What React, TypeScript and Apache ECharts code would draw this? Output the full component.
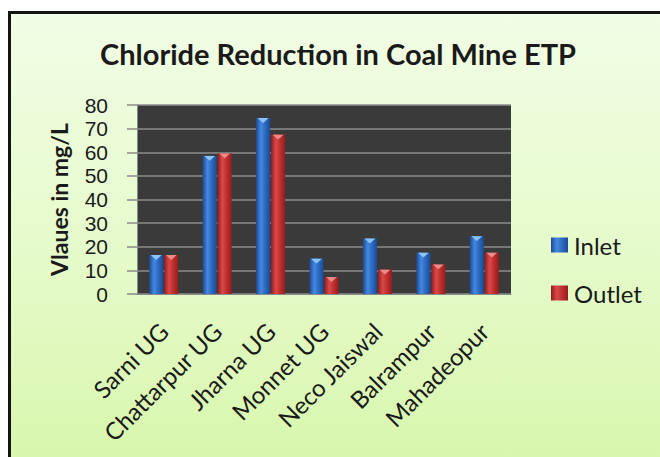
import React, { useEffect, useRef } from "react";
import * as echarts from "echarts";

const categories = [
  "Sarni UG",
  "Chattarpur UG",
  "Jharna UG",
  "Monnet UG",
  "Neco Jaiswal",
  "Balrampur",
  "Mahadeopur",
];
const inletValues = [16.5, 58.5, 74.5, 15, 23.5, 17.5, 24.5];
const outletValues = [16.5, 59.5, 67.5, 7.2, 10.3, 12.5, 17.5];
const seriesNames = ["Inlet", "Outlet"];
const titleText = "Chloride Reduction in Coal Mine ETP";
const yAxisName = "Vlaues in mg/L";

const FONT = "Lato, 'Open Sans', sans-serif";
const NUM_FONT = "'Liberation Sans', Arial, sans-serif";

function barGradient(edge: string, mid: string, light: string) {
  return new echarts.graphic.LinearGradient(0, 0, 1, 0, [
    { offset: 0, color: edge },
    { offset: 0.35, color: light },
    { offset: 0.6, color: mid },
    { offset: 1, color: edge },
  ]);
}

export default function App() {
  const ref = useRef<HTMLDivElement>(null);

  useEffect(() => {
    if (!ref.current) return;
    const chart = echarts.init(ref.current, null, { renderer: "svg" });
    const blue = barGradient("#1c4a93", "#2f6fc6", "#4589e0");
    const red = barGradient("#951c1c", "#c43232", "#d94a4a");
    const BW = 14;
    const OFF = 7.5;
    chart.setOption({
      animation: false,
      backgroundColor: "transparent",
      textStyle: { fontFamily: FONT },
      title: {
        text: titleText,
        left: 333,
        top: 34,
        textAlign: "center",
        textStyle: {
          fontFamily: FONT,
          fontSize: 29,
          fontWeight: "bold",
          color: "#1a1a1a",
        },
      },
      legend: {
        data: seriesNames,
        orient: "vertical",
        left: 551,
        top: 231,
        padding: 0,
        itemWidth: 17,
        itemHeight: 15,
        itemGap: 20,
        icon: "rect",
        textStyle: {
          fontFamily: FONT,
          fontSize: 24,
          color: "#1a1a1a",
          lineHeight: 28,
          padding: [0, 0, 0, 1],
        },
      },
      grid: {
        left: 137,
        top: 105,
        right: 149,
        bottom: 163,
        show: true,
        backgroundColor: "#3a3a3a",
        borderWidth: 0,
        containLabel: false,
      },
      xAxis: {
        type: "category",
        data: categories,
        axisLine: { show: true, lineStyle: { color: "#8a8a8a", width: 1 } },
        axisTick: { show: false },
        axisLabel: {
          interval: 0,
          rotate: 45,
          margin: 33,
          fontFamily: FONT,
          fontSize: 24,
          lineHeight: 24,
          color: "#1a1a1a",
        },
      },
      yAxis: {
        type: "value",
        min: 0,
        max: 80,
        interval: 10,
        name: yAxisName,
        nameLocation: "middle",
        nameRotate: 90,
        nameGap: 66,
        nameTextStyle: {
          fontFamily: FONT,
          fontSize: 23,
          fontWeight: "bold",
          color: "#1a1a1a",
          lineHeight: 24,
        },
        axisLine: { show: true, lineStyle: { color: "#8a8a8a", width: 1 } },
        axisTick: {
          show: true,
          length: 10,
          lineStyle: { color: "#8a8a8a", width: 1.5 },
        },
        axisLabel: {
          margin: 29,
          fontFamily: NUM_FONT,
          fontSize: 21,
          lineHeight: 20,
          color: "#1a1a1a",
        },
        splitLine: { show: true, lineStyle: { color: "#8c8c8c", width: 1.5 } },
      },
      series: [
        {
          name: seriesNames[0],
          type: "bar",
          data: inletValues,
          barWidth: BW,
          barGap: "7%",
          itemStyle: { color: blue },
          z: 2,
        },
        {
          name: seriesNames[1],
          type: "bar",
          data: outletValues,
          barWidth: BW,
          barGap: "7%",
          itemStyle: { color: red },
          z: 2,
        },
        {
          name: "Inlet cap",
          type: "pictorialBar",
          data: inletValues,
          symbol: "triangle",
          symbolRotate: 180,
          symbolSize: [11, 5],
          symbolPosition: "end",
          symbolOffset: [-OFF, 0],
          itemStyle: { color: "#8cc4f4" },
          z: 3,
          silent: true,
        },
        {
          name: "Outlet cap",
          type: "pictorialBar",
          data: outletValues,
          symbol: "triangle",
          symbolRotate: 180,
          symbolSize: [11, 5],
          symbolPosition: "end",
          symbolOffset: [OFF, 0],
          itemStyle: { color: "#ee8a8a" },
          z: 3,
          silent: true,
        },
      ],
    });
    return () => chart.dispose();
  }, []);

  return (
    <div
      style={{
        position: "fixed",
        left: 0,
        top: 0,
        width: 660,
        height: 457,
        background: "#ffffff",
        overflow: "hidden",
      }}
    >
      <div
        style={{
          position: "absolute",
          left: 8,
          top: 11,
          width: 700,
          height: 500,
          borderLeft: "3px solid #141414",
          borderTop: "3px solid #141414",
          background: "linear-gradient(to bottom, #f1fde5 0%, #e6fbcc 45%, #d5f6a6 100%)",
        }}
      />
      <div
        ref={ref}
        style={{ position: "absolute", left: 0, top: 0, width: 660, height: 457 }}
      />
    </div>
  );
}
